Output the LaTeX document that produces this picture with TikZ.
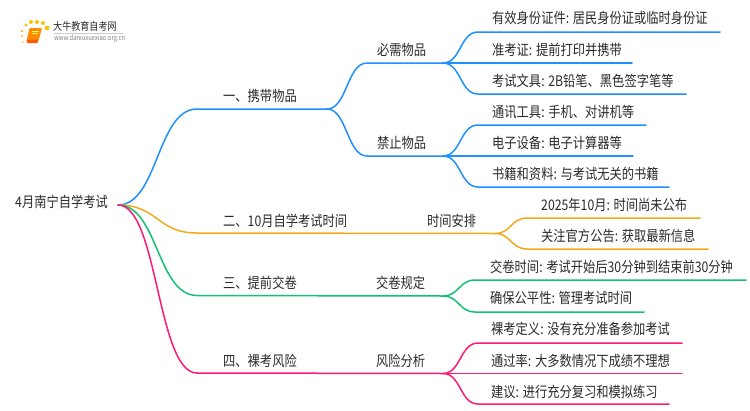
\documentclass[tikz,border=0pt]{standalone}
\usepackage{fontspec}
\setmainfont{Noto Sans CJK SC}[FakeStretch=0.84]
\definecolor{bl}{HTML}{1E90FF}
\definecolor{og}{HTML}{F5A81C}
\definecolor{gn}{HTML}{12C271}
\definecolor{pk}{HTML}{FF1A75}
\definecolor{tx}{HTML}{2B2B2B}
\tikzset{
 lab/.style={anchor=west,inner sep=0pt,text=tx,font=\fontsize{14.6}{15}\selectfont},
 edge/.style={line width=1.5pt,line cap=round},
 sm/.style={edge,to path={.. controls +(#1,0) and +(-#1,0) .. (\tikztotarget)}},
 sm/.default=30
}
\begin{document}
\begin{tikzpicture}[x=1pt,y=-1pt]
\useasboundingbox (0,0) rectangle (750,410);
\fill[white] (0,0) rectangle (750,410);
% logo
\fill[orange!90!yellow,rounded corners=1pt] (29.5,28) -- (42,28) -- (38.5,41) -- (26.5,41) -- cycle;
\fill[orange!70!red,rounded corners=.8pt] (26.5,39.5) -- (38.5,39.5) -- (37.5,43) -- (27,43) -- cycle;
\draw[yellow!60!white,line width=.7pt] (32,31) -- (39,31);
\draw[yellow!60!white,line width=.5pt] (31.5,33.5) -- (38,33.5);
\foreach \x/\y/\r in {47/28/2.4,43/23/2,37/22/2,31/22/2,26/25/1.7,22/31/1.3,22/36/1.1,23/42/.9}
  \fill[yellow!55!orange] (\x,\y) circle (\r);
\node[anchor=west,inner sep=0pt,text=tx,font=\fontsize{10.8}{11}\selectfont] (logoa) at (53,26.5) {大牛教育自考网};
\node[anchor=west,inner sep=0pt,text=gray,font=\fontsize{7}{7}\selectfont] (logob) at (54,38.5) {www.daniuxuexiao.org.cn};
\draw[gray!40,line width=.5pt] (54,33) -- (123,33);
% junctions
\coordinate (R) at (118,205);
\coordinate (a0) at (197,109); \coordinate (a1) at (327,109);
\coordinate (b0) at (367,63); \coordinate (b1) at (443,63);
\coordinate (c0) at (367,156); \coordinate (c1) at (443,156);
\coordinate (d1s) at (478,32); \coordinate (d1e) at (720,32);
\coordinate (d2e) at (632,63);
\coordinate (d3s) at (478,94); \coordinate (d3e) at (686,94);
\coordinate (e1s) at (478,125); \coordinate (e1e) at (646,125);
\coordinate (e2e) at (633,156);
\coordinate (e3s) at (478,187); \coordinate (e3e) at (669,187);
\coordinate (f0) at (197,233); \coordinate (f1) at (495,233.5);
\coordinate (g1s) at (527,218); \coordinate (g1e) at (700,218);
\coordinate (g2s) at (527,249); \coordinate (g2e) at (708,249);
\coordinate (h0) at (197,295.5); \coordinate (h1) at (443,296);
\coordinate (i1s) at (475,280); \coordinate (i1e) at (746,280);
\coordinate (i2s) at (475,312); \coordinate (i2e) at (644,312);
\coordinate (j0) at (197,373); \coordinate (j1) at (443,373.5);
\coordinate (k1s) at (478,343); \coordinate (k1e) at (682,343);
\coordinate (k2e) at (682,373.5);
\coordinate (k3s) at (478,404); \coordinate (k3e) at (669,404);
% connectors
\draw[edge,bl] (R) to[sm=40] (a0) -- (a1);
\draw[edge,bl] (a1) to[sm=20] (b0) -- (b1);
\draw[edge,bl] (a1) to[sm=20] (c0) -- (c1);
\draw[edge,bl] (b1) to[sm=18] (d1s) -- (d1e);
\draw[edge,bl] (b1) -- (d2e);
\draw[edge,bl] (b1) to[sm=18] (d3s) -- (d3e);
\draw[edge,bl] (c1) to[sm=18] (e1s) -- (e1e);
\draw[edge,bl] (c1) -- (e2e);
\draw[edge,bl] (c1) to[sm=18] (e3s) -- (e3e);
\draw[edge,og] (R) to[sm=40] (f0) -- (f1);
\draw[edge,og] (f1) to[sm=16] (g1s) -- (g1e);
\draw[edge,og] (f1) to[sm=16] (g2s) -- (g2e);
\draw[edge,gn] (R) to[sm=40] (h0) -- (h1);
\draw[edge,gn] (h1) to[sm=16] (i1s) -- (i1e);
\draw[edge,gn] (h1) to[sm=16] (i2s) -- (i2e);
\draw[edge,pk] (R) to[sm=40] (j0) -- (j1);
\draw[edge,pk] (j1) to[sm=18] (k1s) -- (k1e);
\draw[edge,pk] (j1) -- (k2e);
\draw[edge,pk] (j1) to[sm=18] (k3s) -- (k3e);
% labels
\node[lab] (root) at (15,202) {4月南宁自学考试};
\node[lab] (n1) at (223,96) {一、携带物品};
\node[lab] (n11) at (377,50) {必需物品};
\node[lab] (n12) at (377,143) {禁止物品};
\node[lab] (n2) at (223,221) {二、10月自学考试时间};
\node[lab] (n21) at (427,221) {时间安排};
\node[lab] (n3) at (223,283) {三、提前交卷};
\node[lab] (n31) at (376,283) {交卷规定};
\node[lab] (n4) at (223,361) {四、裸考风险};
\node[lab] (n41) at (376,361) {风险分析};
\node[lab] (l1) at (492,18) {有效身份证件: 居民身份证或临时身份证};
\node[lab] (l2) at (492,50) {准考证: 提前打印并携带};
\node[lab] (l3) at (492,81) {考试文具: 2B铅笔、黑色签字笔等};
\node[lab] (l4) at (492,112) {通讯工具: 手机、对讲机等};
\node[lab] (l5) at (492,143) {电子设备: 电子计算器等};
\node[lab] (l6) at (492,174) {书籍和资料: 与考试无关的书籍};
\node[lab] (l7) at (541,205) {2025年10月: 时间尚未公布};
\node[lab] (l8) at (541,236) {关注官方公告: 获取最新信息};
\node[lab] (l9) at (490,267) {交卷时间: 考试开始后30分钟到结束前30分钟};
\node[lab] (l10) at (490,298) {确保公平性: 管理考试时间};
\node[lab] (l11) at (491,329) {裸考定义: 没有充分准备参加考试};
\node[lab] (l12) at (491,361) {通过率: 大多数情况下成绩不理想};
\node[lab] (l13) at (491,392) {建议: 进行充分复习和模拟练习};
\end{tikzpicture}
\end{document}
